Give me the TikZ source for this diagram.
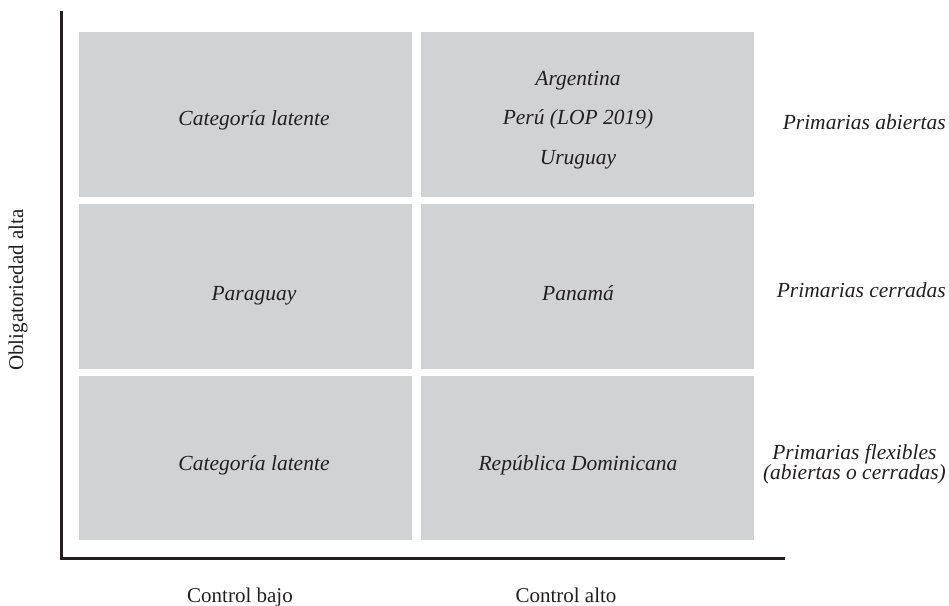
\documentclass[tikz,border=0pt]{standalone}
\usepackage{fontspec}
\setmainfont{Liberation Serif}
\definecolor{cellgray}{HTML}{D1D2D4}
\definecolor{ink}{HTML}{231F20}
\begin{document}
\begin{tikzpicture}[x=1pt,y=-1pt,
  cell/.style={fill=cellgray, draw=none, minimum width=333pt, minimum height=165pt, inner sep=0pt},
  celltext/.style={anchor=base, inner sep=0pt, font=\fontsize{21.5}{39.5}\selectfont\itshape, text=ink, align=center},
  rowlab/.style={anchor=base east, font=\fontsize{21.5}{20}\selectfont\itshape, text=ink, align=center, inner sep=0pt},
  axlab/.style={anchor=base, font=\fontsize{21}{24}\selectfont, text=ink, inner sep=0pt},
  axis/.style={draw=ink, line width=3pt}]
\useasboundingbox (0,0) rectangle (949,605);
% cells
\node[cell] (c11) at (245.5,114.5) {};
\node[cell] (c12) at (587.5,114.5) {};
\node[cell] (c21) at (245.5,286.5) {};
\node[cell] (c22) at (587.5,286.5) {};
\node[cell, minimum height=164.5pt] (c31) at (245.5,457.75) {};
\node[cell, minimum height=164.5pt] (c32) at (587.5,457.75) {};
% cell texts (base = baseline of last line)
\node[celltext] (t11) at (254,125) {Categoría latente};
\node[celltext] (t12) at (578,164) {Argentina\\Perú (LOP 2019)\\Uruguay};
\node[celltext] (t21) at (254,300) {Paraguay};
\node[celltext] (t22) at (578,300) {Panamá};
\node[celltext] (t31) at (254,470) {Categoría latente};
\node[celltext] (t32) at (578,470) {República Dominicana};
% axes
\coordinate (top) at (61,11);
\coordinate (origin) at (61,558.5);
\coordinate (right) at (785,558.5);
\draw[axis] (top) -- (origin) -- (right);
% row labels
\node[rowlab] (r1) at (946,129) {Primarias abiertas};
\node[rowlab] (r2) at (946,297) {Primarias cerradas};
\node[rowlab] (r3) at (946,479) {Primarias flexibles\\(abiertas o cerradas)};
% axis labels
\node[axlab] (xb) at (240,602) {Control bajo};
\node[axlab] (xa) at (566,602) {Control alto};
\node[axlab, rotate=90, anchor=center] (yl) at (18,290) {Obligatoriedad alta};
\end{tikzpicture}
\end{document}
